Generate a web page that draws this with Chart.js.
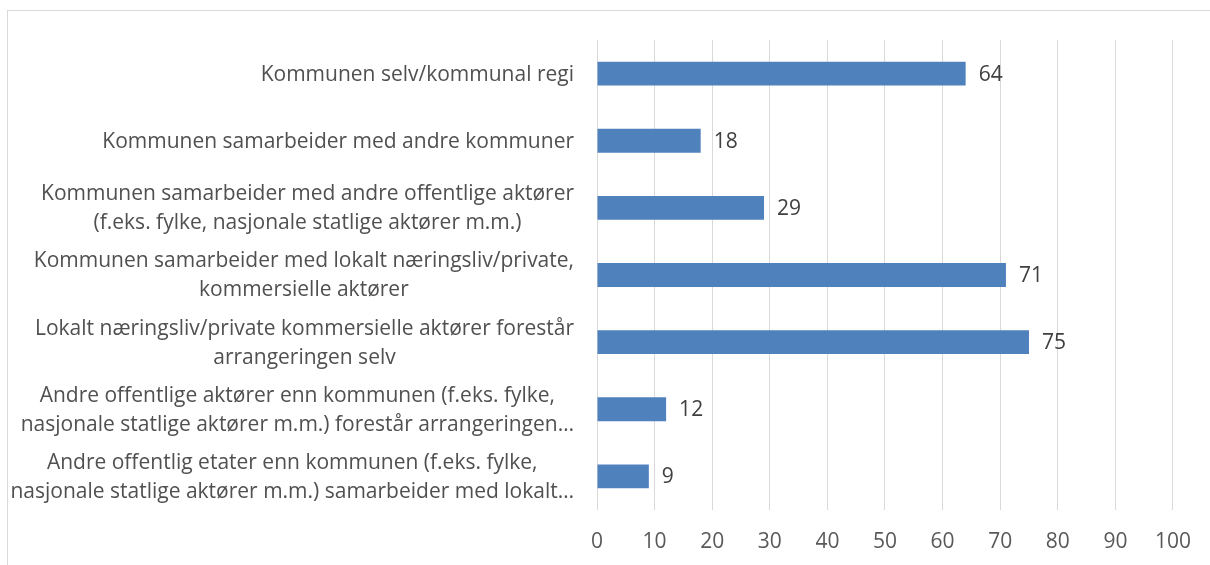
<!DOCTYPE html>
<html>
<head>
<meta charset="utf-8">
<script src="https://cdn.jsdelivr.net/npm/chart.js@4/dist/chart.umd.min.js"></script>
<style>
  html, body { margin: 0; padding: 0; background: #fff; overflow: hidden; }
  #wrap { position: absolute; left: 0; top: 0; width: 1210px; height: 565px; }
  #frame { position: absolute; left: 7px; top: 10px; width: 1230px; height: 600px; border: 1px solid #d9d9d9; box-sizing: border-box; }
</style>
</head>
<body>
<div id="frame"></div>
<div id="wrap"><canvas id="c" width="1210" height="565"></canvas></div>
<script>
const categories = [
  ["Kommunen selv/kommunal regi"],
  ["Kommunen samarbeider med andre kommuner"],
  ["Kommunen samarbeider med andre offentlige aktører", "(f.eks. fylke, nasjonale statlige aktører m.m.)"],
  ["Kommunen samarbeider med lokalt næringsliv/private,", "kommersielle aktører"],
  ["Lokalt næringsliv/private kommersielle aktører forestår", "arrangeringen selv"],
  ["Andre offentlige aktører enn kommunen (f.eks. fylke,", "nasjonale statlige aktører m.m.) forestår arrangeringen…"],
  ["Andre offentlig etater enn kommunen (f.eks. fylke,", "nasjonale statlige aktører m.m.) samarbeider med lokalt…"]
];
const values = [64, 18, 29, 71, 75, 12, 9];
const xMin = 0, xMax = 100, xStep = 10;

const FONT = "'Open Sans'";
const FONT_SIZE = 21;

const catLabelPlugin = {
  id: 'catLabels',
  afterDraw(chart) {
    const ctx = chart.ctx;
    const y = chart.scales.y;
    const right = chart.chartArea.left - 23;
    const lineH = 29;
    ctx.save();
    ctx.font = FONT_SIZE + "px " + FONT;
    ctx.fillStyle = "#505050";
    ctx.textAlign = "center";
    ctx.textBaseline = "middle";
    categories.forEach((lines, i) => {
      const py = y.getPixelForValue(i) + 1;
      const w = Math.max(...lines.map(l => ctx.measureText(l).width));
      const cx = right - w / 2;
      lines.forEach((l, j) => {
        ctx.fillText(l, cx, py + (j - (lines.length - 1) / 2) * lineH);
      });
    });
    ctx.restore();
  }
};

const valueLabelPlugin = {
  id: 'valueLabels',
  afterDatasetsDraw(chart) {
    const ctx = chart.ctx;
    const meta = chart.getDatasetMeta(0);
    ctx.save();
    ctx.font = FONT_SIZE + "px " + FONT;
    ctx.fillStyle = "#404040";
    ctx.textAlign = "left";
    ctx.textBaseline = "middle";
    meta.data.forEach((bar, i) => {
      ctx.fillText(String(values[i]), bar.x + 13, bar.y + 1);
    });
    ctx.restore();
  }
};

new Chart(document.getElementById('c'), {
  type: 'bar',
  data: {
    labels: categories,
    datasets: [{
      data: values,
      backgroundColor: '#4F81BD',
      borderWidth: 0,
      categoryPercentage: 1,
      barPercentage: 0.355
    }]
  },
  options: {
    indexAxis: 'y',
    responsive: false,
    animation: false,
    devicePixelRatio: 1,
    layout: { padding: { left: 597, right: 37, top: 40, bottom: 0 } },
    plugins: { legend: { display: false }, tooltip: { enabled: false } },
    scales: {
      x: {
        min: xMin, max: xMax,
        ticks: { stepSize: xStep, color: '#595959', font: { family: FONT, size: FONT_SIZE }, padding: 19 },
        grid: { color: '#d9d9d9', lineWidth: 1, drawTicks: false },
        border: { display: false },
        afterFit(scale) { scale.height = 55; }
      },
      y: {
        display: false,
        grid: { display: false }
      }
    }
  },
  plugins: [catLabelPlugin, valueLabelPlugin]
});
</script>
</body>
</html>
